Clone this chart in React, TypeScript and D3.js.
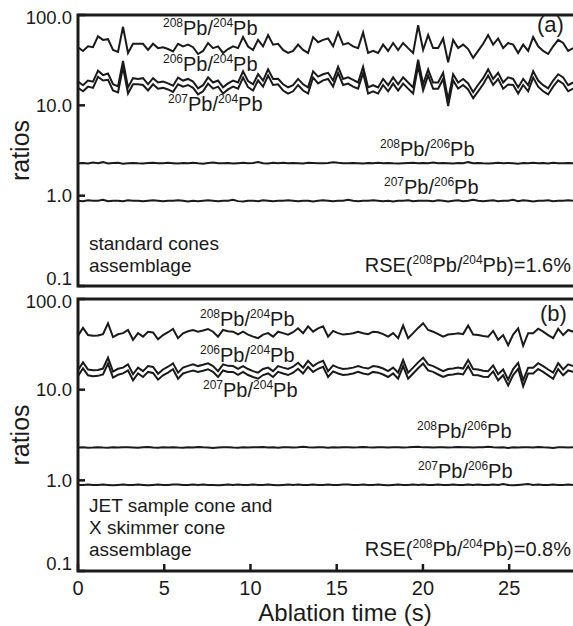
import React from "react";
import * as d3 from "d3";

// sampling interval of the time-resolved signal (s)
const STEP = 0.29;

const yTicks = [100, 10, 1, 0.1];
const xTicks = [0, 5, 10, 15, 20, 25];

// panel (a): standard cones
const a208_204 = [44, 40, 45, 44, 58, 53, 54, 41, 39, 74, 38, 48, 48, 48, 41, 48, 43, 44, 42, 39.5, 48, 45, 47, 44, 37, 40, 49, 43, 45, 38, 42, 45, 43, 57,
  44.7, 41, 53, 45, 60, 47, 48, 41, 38, 40, 47, 41, 38, 57, 50, 53, 55, 45, 64, 47, 49, 45, 43, 64, 38, 40, 38, 47, 40, 49, 41, 49, 43,
  38, 77, 41, 60, 43, 43, 55, 30, 53, 43, 47, 42, 33.5, 40, 48, 60, 47, 55, 43, 49, 47, 38, 47, 40, 57, 45, 40, 37, 45, 53, 49, 40, 43];
const a206_204 = [18.3, 16.7, 18.8, 18.3, 24.2, 21.6, 22.5, 17.1, 16.2, 31.0, 15.8, 20.0, 19.6, 20.0, 17.1, 20.0, 17.9, 18.3, 17.5, 16.5, 20.3, 18.8, 19.6, 18.3, 15.4, 16.7, 20.4, 17.9, 18.8, 15.8, 17.5, 18.8, 17.9, 23.8,
  18.6, 17.1, 22.1, 18.8, 25.0, 19.6, 19.7, 17.1, 15.8, 16.7, 19.6, 17.1, 15.8, 23.8, 20.8, 22.1, 22.9, 18.8, 26.7, 19.6, 20.4, 19.1, 17.9, 26.7, 15.8, 16.7, 15.8, 19.6, 16.7, 20.4, 17.1, 20.4, 17.9,
  15.8, 32.0, 17.1, 25.0, 17.9, 17.9, 22.9, 11.5, 22.1, 17.9, 19.6, 17.5, 14.0, 16.9, 20.0, 25.0, 19.6, 22.9, 17.9, 20.4, 19.6, 15.8, 19.6, 16.7, 23.8, 18.8, 16.7, 15.4, 18.8, 22.1, 20.4, 16.7, 17.9];
const a207_204 = [15.6, 14.3, 16.1, 15.6, 20.7, 18.8, 19.2, 14.6, 13.9, 26.5, 13.5, 17.1, 17.1, 16.8, 14.6, 17.1, 15.3, 15.6, 15.0, 14.1, 17.1, 16.1, 16.8, 15.6, 13.2, 14.3, 17.4, 15.3, 16.1, 13.5, 15.0, 16.1, 15.3, 20.3,
  15.9, 14.6, 18.9, 16.1, 21.4, 16.8, 17.1, 14.6, 13.5, 14.3, 16.8, 14.6, 13.5, 20.3, 17.5, 18.9, 19.6, 16.1, 22.8, 16.8, 17.4, 16.1, 15.3, 22.8, 13.5, 14.3, 13.5, 16.8, 14.3, 17.4, 14.6, 17.4, 15.3,
  13.5, 27.4, 14.6, 21.4, 15.3, 15.3, 19.6, 9.8, 18.9, 15.3, 16.8, 15.0, 12.0, 14.3, 17.1, 21.4, 16.8, 19.6, 15.3, 17.0, 16.8, 13.5, 16.8, 14.3, 20.3, 16.1, 14.3, 13.2, 16.1, 18.9, 17.4, 14.3, 15.3];
const a208_206 = [2.28, 2.30, 2.27, 2.33, 2.29, 2.35, 2.27, 2.30, 2.31, 2.26, 2.29, 2.30, 2.28, 2.27, 2.30, 2.32, 2.29, 2.28, 2.31, 2.29, 2.27, 2.30, 2.29, 2.31, 2.28, 2.26, 2.30, 2.33, 2.28, 2.29, 2.30, 2.27, 2.29, 2.31, 2.28,
  2.30, 2.36, 2.28, 2.27, 2.31, 2.29, 2.32, 2.28, 2.30, 2.29, 2.27, 2.31, 2.30, 2.29, 2.28, 2.30, 2.35, 2.31, 2.29, 2.28, 2.30, 2.29, 2.27, 2.30, 2.28, 2.31, 2.29, 2.30, 2.28, 2.27, 2.29, 2.30,
  2.31, 2.28, 2.30, 2.29, 2.33, 2.28, 2.30, 2.29, 2.27, 2.30, 2.28, 2.35, 2.29, 2.30, 2.28, 2.27, 2.29, 2.31, 2.28, 2.30, 2.29, 2.26, 2.30, 2.28, 2.31, 2.29, 2.30, 2.27, 2.32, 2.28, 2.29, 2.30, 2.29];
const a207_206 = [0.88, 0.87, 0.89, 0.88, 0.88, 0.90, 0.87, 0.88, 0.88, 0.87, 0.89, 0.88, 0.88, 0.87, 0.88, 0.89, 0.88, 0.87, 0.88, 0.88, 0.89, 0.88, 0.86, 0.88, 0.87, 0.88, 0.89, 0.88, 0.87, 0.88, 0.88, 0.90, 0.87, 0.86,
  0.88, 0.88, 0.87, 0.89, 0.88, 0.87, 0.88, 0.88, 0.89, 0.88, 0.87, 0.88, 0.88, 0.86, 0.88, 0.89, 0.88, 0.87, 0.88, 0.88, 0.90, 0.88, 0.87, 0.88, 0.88, 0.89, 0.88, 0.87, 0.88, 0.86, 0.88, 0.88, 0.89,
  0.87, 0.88, 0.88, 0.88, 0.87, 0.89, 0.88, 0.86, 0.88, 0.89, 0.87, 0.88, 0.90, 0.88, 0.87, 0.88, 0.89, 0.87, 0.88, 0.88, 0.90, 0.87, 0.89, 0.88, 0.86, 0.88, 0.88, 0.89, 0.87, 0.88, 0.88, 0.89, 0.88];

// panel (b): JET sample cone + X skimmer cone
const b208_204 = [39.4, 48, 40, 39.4, 39.5, 41, 54, 38, 40.8, 42, 45.5, 35.5, 42, 38.4, 43.6, 42.8, 36, 40, 43, 46.7, 37, 41.9, 44, 45.5, 43.6, 45, 46.7, 43.6, 38.4, 45.5, 44, 43.6, 40.8, 43.6,
  40.5, 38.5, 37, 40.5, 42, 38.4, 43.6, 42, 40.5, 43, 47.5, 42, 50, 43.6, 47.5, 50, 38.4, 44.5, 42, 40.5, 41, 42, 43.6, 42, 41, 43.6, 43, 41, 38.4, 42, 37, 51, 37,
  42, 48, 54, 45.5, 43.6, 41, 38.4, 40.5, 41, 42, 41, 51, 40.5, 40, 39, 38.4, 44.5, 35.5, 40, 31, 40.5, 47.5, 30.5, 42, 42, 47, 43.6, 40, 37, 47, 40, 45.5, 43.6];
const b206_204 = [16.4, 20.0, 16.7, 16.4, 16.5, 17.1, 22.5, 15.8, 17.0, 17.5, 19.0, 14.8, 17.5, 16.0, 18.2, 17.8, 15.0, 16.7, 17.9, 19.5, 15.4, 17.5, 18.3, 19.0, 18.2, 18.8, 19.5, 18.2, 16.0, 19.0, 18.3, 18.2, 17.0, 18.2,
  16.9, 16.0, 15.4, 16.9, 17.5, 16.0, 18.2, 17.5, 16.9, 17.9, 19.8, 17.5, 20.8, 18.2, 19.8, 20.8, 16.0, 18.5, 17.5, 16.9, 17.1, 17.5, 18.2, 17.5, 17.1, 18.2, 17.9, 17.1, 16.0, 17.5, 15.4, 21.2, 15.4,
  17.5, 20.0, 22.5, 19.0, 18.2, 17.1, 16.0, 16.9, 17.1, 17.5, 17.1, 21.2, 16.9, 16.7, 16.2, 16.0, 18.5, 14.8, 16.7, 12.9, 16.9, 19.8, 12.7, 17.5, 17.5, 19.6, 18.2, 16.7, 15.4, 19.6, 16.7, 19.0, 18.2];
const b207_204 = [14.1, 17.2, 14.4, 14.1, 14.2, 14.7, 19.4, 13.6, 14.6, 15.1, 16.3, 12.7, 15.1, 13.8, 15.7, 15.3, 12.9, 14.4, 15.4, 16.8, 13.2, 15.1, 15.7, 16.3, 15.7, 16.2, 16.8, 15.7, 13.8, 16.3, 15.7, 15.7, 14.6, 15.7,
  14.5, 13.8, 13.2, 14.5, 15.1, 13.8, 15.7, 15.1, 14.5, 15.4, 17.0, 15.1, 17.9, 15.7, 17.0, 17.9, 13.8, 15.9, 15.1, 14.5, 14.7, 15.1, 15.7, 15.1, 14.7, 15.7, 15.4, 14.7, 13.8, 15.1, 13.2, 18.2, 13.2,
  15.1, 17.2, 19.4, 16.3, 15.7, 14.7, 13.8, 14.5, 14.7, 15.1, 14.7, 18.2, 14.5, 14.4, 13.9, 13.8, 15.9, 12.7, 14.4, 11.1, 14.5, 17.0, 10.9, 15.1, 15.1, 16.9, 15.7, 14.4, 13.2, 16.9, 14.4, 16.3, 15.7];
const b208_206 = [2.30, 2.31, 2.29, 2.30, 2.32, 2.30, 2.29, 2.31, 2.30, 2.32, 2.31, 2.30, 2.29, 2.31, 2.33, 2.30, 2.29, 2.31, 2.30, 2.32, 2.30, 2.29, 2.31, 2.30, 2.33, 2.31, 2.30, 2.28, 2.30, 2.31, 2.32, 2.30, 2.29, 2.31,
  2.30, 2.32, 2.31, 2.33, 2.30, 2.31, 2.29, 2.31, 2.32, 2.30, 2.31, 2.34, 2.31, 2.30, 2.32, 2.31, 2.29, 2.31, 2.30, 2.32, 2.31, 2.30, 2.31, 2.33, 2.31, 2.30, 2.32, 2.31, 2.30, 2.31, 2.32, 2.30, 2.31,
  2.33, 2.35, 2.31, 2.32, 2.30, 2.31, 2.32, 2.30, 2.31, 2.33, 2.31, 2.32, 2.30, 2.31, 2.32, 2.34, 2.31, 2.30, 2.32, 2.28, 2.31, 2.30, 2.32, 2.31, 2.30, 2.33, 2.31, 2.30, 2.28, 2.32, 2.31, 2.30, 2.31];
const b207_206 = [0.89, 0.89, 0.90, 0.89, 0.89, 0.90, 0.89, 0.88, 0.89, 0.90, 0.89, 0.89, 0.90, 0.89, 0.88, 0.89, 0.90, 0.89, 0.89, 0.90, 0.90, 0.89, 0.89, 0.90, 0.89, 0.90, 0.89, 0.89, 0.88, 0.89, 0.90, 0.89, 0.90, 0.89,
  0.89, 0.90, 0.89, 0.89, 0.90, 0.89, 0.88, 0.89, 0.90, 0.89, 0.90, 0.89, 0.89, 0.90, 0.89, 0.89, 0.90, 0.89, 0.89, 0.90, 0.90, 0.89, 0.89, 0.90, 0.89, 0.89, 0.90, 0.89, 0.88, 0.89, 0.90, 0.89, 0.89,
  0.90, 0.89, 0.90, 0.89, 0.89, 0.90, 0.89, 0.89, 0.90, 0.89, 0.89, 0.90, 0.89, 0.90, 0.89, 0.89, 0.90, 0.89, 0.91, 0.89, 0.88, 0.89, 0.90, 0.91, 0.89, 0.90, 0.89, 0.89, 0.90, 0.89, 0.89, 0.90, 0.89];

const FONT = "'Liberation Sans', Arial, Helvetica, sans-serif";
const W = 573;
const H = 626;
const LEFT = 78;
const RIGHT = 573;
const X_MAX = 28.7;

type Lbl = { x: number; y: number; a: string; b: string };

const Iso = ({ x, y, a, b }: Lbl) => (
  <text x={x} y={y} fontSize={20}>
    <tspan fontSize={12} dy={-8}>{a}</tspan>
    <tspan dy={8}>Pb/</tspan>
    <tspan fontSize={12} dy={-8}>{b}</tspan>
    <tspan dy={8}>Pb</tspan>
  </text>
);

type PanelProps = {
  id: string;
  top: number;
  bottom: number;
  series: number[][];
  labels: Lbl[];
  notes: { x: number; y: number; text: string }[];
  rse: { y: number; val: string };
  letter: { x: number; y: number; text: string };
  xAxis: boolean;
};

// small nudges so the stacked 0.1 / 100.0 labels between panels don't collide
const tickNudge = (t: number) => (t === 0.1 ? -8 : t === 100 ? 2 : 0);

const Panel = ({ id, top, bottom, series, labels, notes, rse, letter, xAxis }: PanelProps) => {
  const x = d3.scaleLinear().domain([0, X_MAX]).range([LEFT, RIGHT]);
  const y = d3.scaleLog().domain([0.1, 100]).range([bottom, top]);
  const line = d3
    .line<number>()
    .x((_, i) => x(i * STEP))
    .y((d) => y(d));

  return (
    <g>
      <defs>
        <clipPath id={id}>
          <rect x={LEFT} y={top} width={RIGHT - LEFT + 10} height={bottom - top} />
        </clipPath>
      </defs>
      <g clipPath={`url(#${id})`}>
        {series.map((s, k) => (
          <path key={k} d={line(s) || ""} fill="none" stroke="#1a1a1a" strokeWidth={2} strokeLinejoin="miter" />
        ))}
      </g>

      {/* frame (right side runs off the page) */}
      <path
        d={`M${RIGHT + 10},${top}H${LEFT}V${bottom}H${RIGHT + 10}`}
        fill="none"
        stroke="#1a1a1a"
        strokeWidth={3}
      />

      {yTicks.map((t) => (
        <g key={t}>
          <line x1={LEFT} x2={LEFT + 7} y1={y(t)} y2={y(t)} stroke="#1a1a1a" strokeWidth={2.5} />
          <text x={72} y={y(t) + tickNudge(t)} dy="0.36em" textAnchor="end" fontSize={18.5}>
            {d3.format(".1f")(t)}
          </text>
        </g>
      ))}

      {xAxis &&
        xTicks.map((t) => (
          <g key={t}>
            <line x1={x(t)} x2={x(t)} y1={bottom} y2={bottom - 7} stroke="#1a1a1a" strokeWidth={2.5} />
            <text x={x(t)} y={bottom + 24} textAnchor="middle" fontSize={20}>
              {t}
            </text>
          </g>
        ))}

      <text
        transform={`translate(29,${(top + bottom) / 2}) rotate(-90)`}
        textAnchor="middle"
        fontSize={25}
      >
        ratios
      </text>

      {labels.map((l, k) => (
        <Iso key={k} {...l} />
      ))}

      {notes.map((n, k) => (
        <text key={k} x={n.x} y={n.y} fontSize={19}>
          {n.text}
        </text>
      ))}

      <text x={571} y={rse.y} textAnchor="end" fontSize={20}>
        RSE(
        <tspan fontSize={12} dy={-8}>208</tspan>
        <tspan dy={8}>Pb/</tspan>
        <tspan fontSize={12} dy={-8}>204</tspan>
        <tspan dy={8}>Pb)={rse.val}</tspan>
      </text>

      <text x={letter.x} y={letter.y} fontSize={22}>
        {letter.text}
      </text>
    </g>
  );
};

export default function App() {
  return (
    <svg
      width={W}
      height={H}
      style={{ position: "absolute", left: 0, top: 0, background: "#fff" }}
      fontFamily={FONT}
      fill="#1a1a1a"
    >
      <rect width={W} height={H} fill="#fff" />
      <Panel
        id="clipA"
        top={15}
        bottom={286}
        series={[a208_204, a206_204, a207_204, a208_206, a207_206]}
        labels={[
          { x: 163, y: 35, a: "208", b: "204" },
          { x: 163, y: 71, a: "206", b: "204" },
          { x: 168, y: 111, a: "207", b: "204" },
          { x: 380, y: 156, a: "208", b: "206" },
          { x: 384, y: 194, a: "207", b: "206" },
        ]}
        notes={[
          { x: 89, y: 250, text: "standard cones" },
          { x: 89, y: 272, text: "assemblage" },
        ]}
        rse={{ y: 272, val: "1.6%" }}
        letter={{ x: 537, y: 32, text: "(a)" }}
        xAxis={false}
      />
      <Panel
        id="clipB"
        top={299}
        bottom={571}
        series={[b208_204, b206_204, b207_204, b208_206, b207_206]}
        labels={[
          { x: 200, y: 326, a: "208", b: "204" },
          { x: 200, y: 362, a: "206", b: "204" },
          { x: 203, y: 397, a: "207", b: "204" },
          { x: 417, y: 438, a: "208", b: "206" },
          { x: 418, y: 478, a: "207", b: "206" },
        ]}
        notes={[
          { x: 89, y: 512, text: "JET sample cone and" },
          { x: 89, y: 534, text: "X skimmer cone" },
          { x: 89, y: 556, text: "assemblage" },
        ]}
        rse={{ y: 556, val: "0.8%" }}
        letter={{ x: 540, y: 321, text: "(b)" }}
        xAxis={true}
      />
      <text x={345} y={621} textAnchor="middle" fontSize={24}>
        Ablation time (s)
      </text>
    </svg>
  );
}
